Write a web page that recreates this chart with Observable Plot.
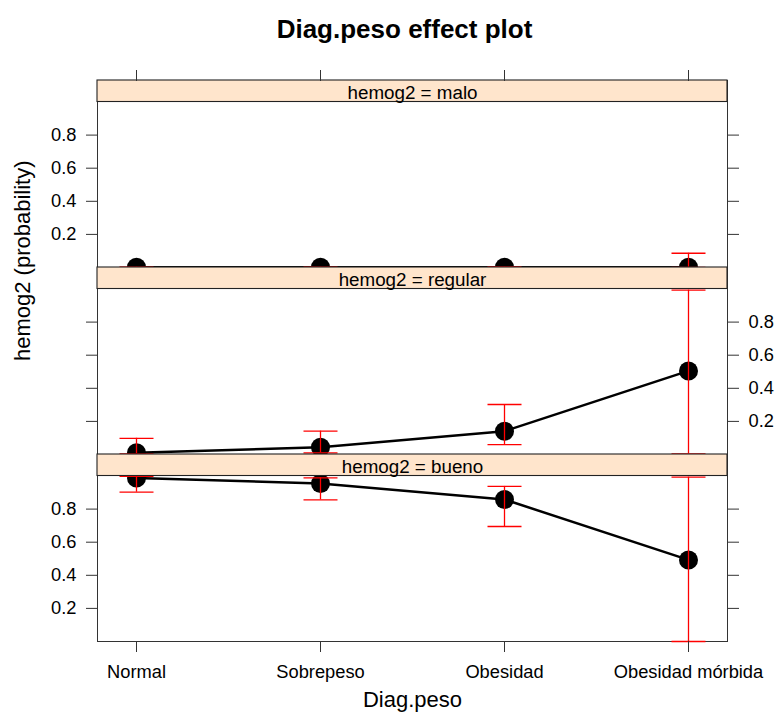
<!DOCTYPE html>
<html>
<head>
<meta charset="utf-8">
<script src="https://cdn.jsdelivr.net/npm/d3@7"></script>
<script src="https://cdn.jsdelivr.net/npm/@observablehq/plot@0.6"></script>
<style>
  html, body { margin: 0; padding: 0; background: #fff; }
</style>
</head>
<body>
<div id="chart"></div>
<script>
// Predictor levels along the x axis
const categories = ["Normal", "Sobrepeso", "Obesidad", "Obesidad mórbida"];
// Response levels, one panel each, listed top to bottom
const levels = ["malo", "regular", "bueno"];

// Fitted probabilities and confidence limits per response level
const fitMalo = [0.001, 0.001, 0.001, 0.002];
const lowerMalo = [0.0, 0.0, 0.0, 0.0];
const upperMalo = [0.002, 0.002, 0.003, 0.086];

const fitRegular = [0.011, 0.044, 0.141, 0.505];
const lowerRegular = [0.004, 0.010, 0.060, 0.004];
const upperRegular = [0.098, 0.141, 0.302, 0.993];

const fitBueno = [0.988, 0.955, 0.858, 0.493];
const lowerBueno = [0.902, 0.856, 0.695, 0.0];
const upperBueno = [0.998, 0.989, 0.937, 0.993];

const yTicks = [0.2, 0.4, 0.6, 0.8];

const title = "Diag.peso effect plot";
const xTitle = "Diag.peso";
const yTitle = "hemog2 (probability)";

// Each panel spans one probability unit plus a strip above it
const STRIP = 21.5 / 165.5;
const BAND = 1 + STRIP;
const offset = (l) => (levels.length - 1 - levels.indexOf(l)) * BAND;

const series = {
  malo: [fitMalo, lowerMalo, upperMalo],
  regular: [fitRegular, lowerRegular, upperRegular],
  bueno: [fitBueno, lowerBueno, upperBueno]
};

const rows = levels.flatMap((level) =>
  categories.map((cat, i) => ({
    level,
    cat,
    fit: series[level][0][i],
    lower: series[level][1][i],
    upper: series[level][2][i]
  }))
);

const yFit = (d) => d.fit + offset(d.level);
const yLow = (d) => d.lower + offset(d.level);
const yHigh = (d) => d.upper + offset(d.level);

// Horizontal bar symbol for the error bar caps
const capSymbol = {
  draw(context, size) {
    const h = Math.sqrt(size / Math.PI);
    context.moveTo(-h, 0);
    context.lineTo(h, 0);
  }
};

// Tick positions in the stacked coordinate, split by which side is labelled
const ticksFor = (ls) => ls.flatMap((l) => yTicks.map((v) => v + offset(l)));
const leftLabelled = ticksFor(["malo", "bueno"]);
const rightLabelled = ticksFor(["regular"]);
const tickLabel = (d) => {
  const v = d - Math.floor((d + 1e-9) / BAND) * BAND;
  return v.toFixed(1);
};

const axisStyle = { stroke: "#333", tickSize: 11, label: null, fontSize: 18.3 };

const chart = Plot.plot({
  width: 777,
  height: 725,
  marginLeft: 97,
  marginRight: 50,
  marginTop: 80,
  marginBottom: 84,
  style: {
    fontFamily: "'Liberation Sans', Arial, Helvetica, sans-serif",
    fontSize: "18px",
    background: "#fff",
    color: "#000"
  },
  x: { type: "point", domain: categories, padding: 0.21, axis: null },
  y: { domain: [0, levels.length * BAND], axis: null },
  marks: [
    Plot.frame({ stroke: "#333" }),
    Plot.line(rows, { x: "cat", y: yFit, z: "level", stroke: "#000", strokeWidth: 2.5 }),
    Plot.dot(rows, { x: "cat", y: yFit, r: 9.5, fill: "#000", stroke: null }),
    Plot.ruleX(rows, { x: "cat", y1: yLow, y2: yHigh, stroke: "#ff0000", strokeWidth: 1.3 }),
    Plot.dot(rows, { x: "cat", y: yLow, symbol: capSymbol, r: 17, fill: "none", stroke: "#ff0000", strokeWidth: 1.3 }),
    Plot.dot(rows, { x: "cat", y: yHigh, symbol: capSymbol, r: 17, fill: "none", stroke: "#ff0000", strokeWidth: 1.3 }),
    // Strips naming each panel
    Plot.rect(levels, {
      y1: (l) => offset(l) + 1,
      y2: (l) => offset(l) + BAND,
      fill: "#ffe5cc",
      stroke: "#222",
      strokeWidth: 1.1
    }),
    Plot.text(levels, {
      y: (l) => offset(l) + 1 + STRIP / 2,
      dy: 1.5,
      text: (l) => `hemog2 = ${l}`,
      fontSize: 18.8,
      fill: "#000"
    }),
    // Alternating y axes
    Plot.axisY({ ...axisStyle, anchor: "left", ticks: leftLabelled, tickPadding: 10, tickFormat: tickLabel }),
    Plot.axisY({ ...axisStyle, anchor: "left", ticks: rightLabelled, tickFormat: () => "" }),
    Plot.axisY({ ...axisStyle, anchor: "right", ticks: rightLabelled, tickPadding: 10, tickFormat: tickLabel }),
    Plot.axisY({ ...axisStyle, anchor: "right", ticks: leftLabelled, tickFormat: () => "" }),
    // x axes
    Plot.axisX({ ...axisStyle, anchor: "bottom", tickPadding: 12 }),
    Plot.axisX({ ...axisStyle, anchor: "top", tickFormat: () => "" }),
    // Titles
    Plot.text([title], { text: (d) => d, frameAnchor: "top", dy: -60.6, dx: -8, fontSize: 26, fontWeight: "bold", fill: "#000" }),
    Plot.text([xTitle], { text: (d) => d, frameAnchor: "bottom", dy: 65, fontSize: 22, fill: "#000" }),
    Plot.text([yTitle], { text: (d) => d, frameAnchor: "left", dx: -75, rotate: -90, fontSize: 22, fill: "#000" })
  ]
});

document.getElementById("chart").appendChild(chart);
</script>
</body>
</html>
